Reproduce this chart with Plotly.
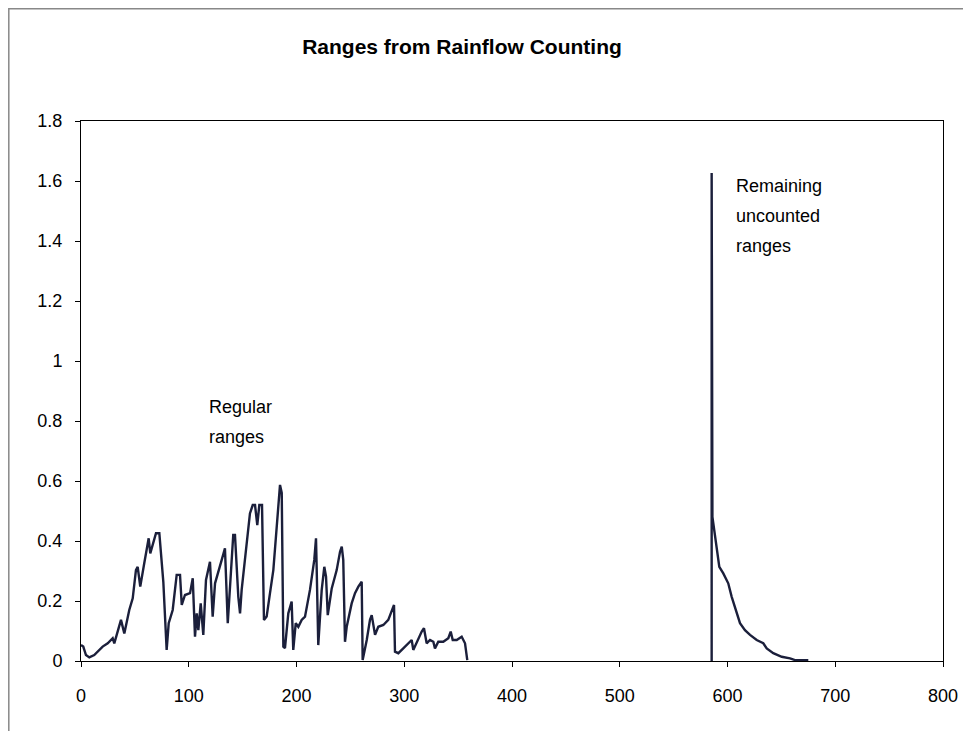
import plotly.graph_objects as go

# Regular ranges (cycle index, range)
regular_x = [0, 2.1, 4.6, 7.7, 12.3, 20.1, 24.8, 29.4, 30.9, 37.1, 40.2, 44.8, 48.0, 51.0, 52.6,
             55.0, 58.7, 62.8, 64.3, 69.6, 72.7, 75.2, 76.4, 79.5, 81.4, 85.1, 88.8, 91.9, 93.5,
             96.5, 101.2, 103.7, 105.8, 107.4, 108.9, 111.1, 113.5, 116.0, 119.7, 122.2, 124.4,
             130.6, 133.6, 136.2, 138.3, 141.3, 142.9, 144.5, 146.0, 147.6, 149.1, 156.8, 159.4,
             161.5, 163.6, 165.5, 168.0, 169.8, 172.3, 175.4, 178.5, 184.7, 186.3, 187.8, 189.3,
             192.4, 195.5, 197.0, 199.3, 201.7, 204.8, 207.9, 212.5, 216.5, 218.1, 218.7, 220.2,
             223.4, 225.8, 227.4, 229.0, 232.7, 237.3, 240.4, 242.0, 243.4, 245.0, 246.6, 251.2,
             254.3, 257.4, 260.5, 261.4, 265.2, 268.2, 269.8, 272.9, 275.9, 280.6, 285.2, 289.3,
             290.5, 291.4, 294.5, 299.1, 303.8, 306.9, 308.4, 311.6, 316.2, 318.3, 320.8, 323.9,
             327.0, 328.5, 331.6, 336.2, 340.9, 343.1, 345.0, 348.7, 353.3, 356.4, 358.5]
regular_y = [0.053, 0.048, 0.020, 0.012, 0.020, 0.048, 0.059, 0.076, 0.059, 0.137, 0.092, 0.170,
             0.209, 0.303, 0.314, 0.248, 0.326, 0.409, 0.359, 0.426, 0.426, 0.303, 0.264, 0.037,
             0.126, 0.170, 0.287, 0.287, 0.187, 0.220, 0.226, 0.276, 0.081, 0.159, 0.103, 0.192,
             0.087, 0.270, 0.331, 0.148, 0.259, 0.337, 0.376, 0.126, 0.259, 0.420, 0.420, 0.314,
             0.214, 0.159, 0.237, 0.492, 0.520, 0.520, 0.453, 0.520, 0.520, 0.137, 0.148, 0.226,
             0.303, 0.587, 0.560, 0.048, 0.043, 0.159, 0.198, 0.037, 0.126, 0.114, 0.137, 0.148,
             0.237, 0.337, 0.409, 0.314, 0.053, 0.237, 0.314, 0.281, 0.153, 0.242, 0.303, 0.364,
             0.381, 0.337, 0.064, 0.114, 0.192, 0.226, 0.248, 0.264, 0.003, 0.070, 0.137, 0.153,
             0.087, 0.114, 0.120, 0.137, 0.181, 0.187, 0.031, 0.026, 0.042, 0.059, 0.070, 0.037,
             0.064, 0.098, 0.109, 0.059, 0.070, 0.064, 0.042, 0.064, 0.064, 0.076, 0.098, 0.070,
             0.070, 0.081, 0.059, 0.003]

# Remaining uncounted ranges
remaining_x = [585.3, 585.3, 586.0, 586.8, 589.3, 592.4, 596.1, 600.7, 603.9, 606.9, 610.0, 611.6,
               616.2, 620.9, 627.1, 633.2, 636.4, 642.5, 650.3, 658.0, 662.7, 675.0]
remaining_y = [0.0, 1.627, 0.48, 0.459, 0.381, 0.314, 0.292, 0.259, 0.214, 0.181, 0.148, 0.126,
               0.103, 0.087, 0.070, 0.059, 0.042, 0.026, 0.014, 0.009, 0.003, 0.003]

title_text = "Ranges from Rainflow Counting"
label_regular = ["Regular", "ranges"]
label_remaining = ["Remaining", "uncounted", "ranges"]

FONT = "Arial, Liberation Sans, sans-serif"
LINE_COLOR = "#1b1f3b"

W, H = 963, 723
L, R, T, B = 73, 28, 113, 70
PW, PH = W - L - R, H - T - B

fig = go.Figure()
fig.add_trace(go.Scatter(x=regular_x, y=regular_y, mode="lines",
                         line=dict(color=LINE_COLOR, width=2.4), showlegend=False))
fig.add_trace(go.Scatter(x=remaining_x, y=remaining_y, mode="lines",
                         line=dict(color=LINE_COLOR, width=2.4), showlegend=False))

annotations = []
for i, t in enumerate(label_regular):
    annotations.append(dict(x=117, y=0.847 - i * 0.1, xref="x", yref="y", text=t,
                            showarrow=False, xanchor="left", yanchor="middle",
                            font=dict(family=FONT, size=18, color="#000")))
for i, t in enumerate(label_remaining):
    annotations.append(dict(x=606, y=1.583 - i * 0.1, xref="x", yref="y", text=t,
                            showarrow=False, xanchor="left", yanchor="middle",
                            font=dict(family=FONT, size=18, color="#000")))

fig.update_layout(
    width=W, height=H,
    margin=dict(l=L, r=R, t=T, b=B),
    paper_bgcolor="white", plot_bgcolor="white",
    title=dict(text="<b>" + title_text + "</b>", x=454 / W, xanchor="center",
               y=1 - 39 / H, yanchor="middle", xref="container", yref="container",
               font=dict(family=FONT, size=21, color="#000")),
    font=dict(family=FONT, size=18, color="#000"),
    annotations=annotations,
    shapes=[dict(type="rect", xref="paper", yref="paper",
                 x0=(0.8 - L) / PW, x1=(W + 20 - L) / PW,
                 y0=(-(H + 20 - T - PH)) / PH, y1=(T - 0.8) / PH + 1,
                 line=dict(color="#888888", width=1.5), fillcolor="rgba(0,0,0,0)", layer="below")],
)
fig.update_xaxes(range=[0, 800], dtick=100, tick0=0, showgrid=False, zeroline=False,
                 showline=True, linecolor="#000", linewidth=1, mirror=True,
                 ticks="outside", ticklen=5, tickcolor="#000", ticklabelstandoff=13,
                 tickfont=dict(family=FONT, size=18, color="#000"))
fig.update_yaxes(range=[0, 1.8], dtick=0.2, tick0=0, showgrid=False, zeroline=False,
                 showline=True, linecolor="#000", linewidth=1, mirror=True,
                 ticks="outside", ticklen=5, tickcolor="#000", ticklabelstandoff=9,
                 tickfont=dict(family=FONT, size=18, color="#000"))

fig.write_html("out.html")
